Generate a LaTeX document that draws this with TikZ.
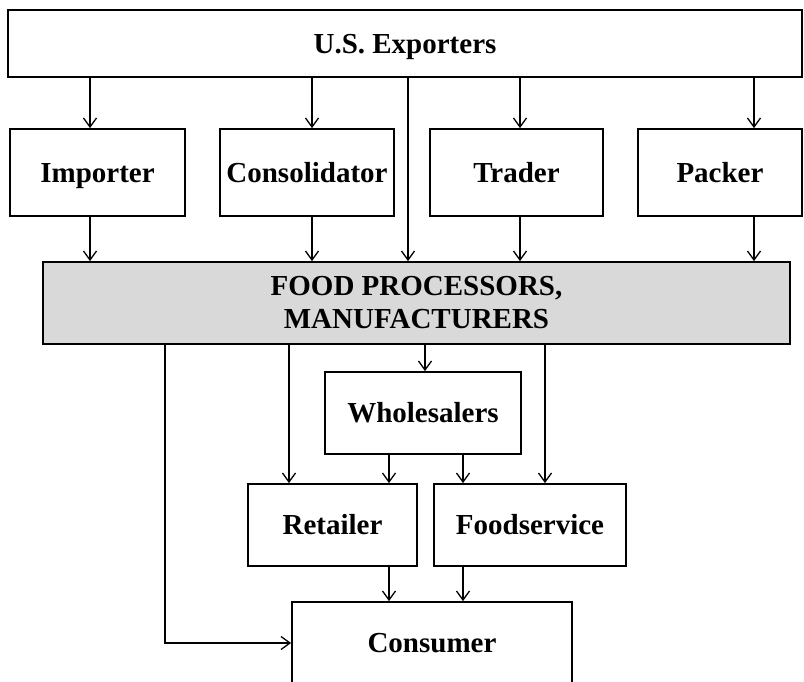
\documentclass[tikz,border=0pt]{standalone}
\usepackage{fontspec}
\setmainfont{Liberation Serif}
\usetikzlibrary{arrows.meta}
\definecolor{fpgray}{HTML}{D9D9D9}
\begin{document}
\begin{tikzpicture}[x=1pt, y=-1pt,
    box/.style={draw, line width=1.8pt, font=\fontsize{29}{33}\selectfont\bfseries, align=center, inner sep=2pt},
    onebox/.style={box, text height=24pt, text depth=5pt},
    link/.style={line width=1.3pt, -{Straight Barb[length=9pt, width=13pt, line width=1.3pt]}}]
        \useasboundingbox (0,0) rectangle (804,681);

        % Exporters
        \node[onebox, minimum width=794, minimum height=67] (exporters) at (405,43.5) {U.S. Exporters};

        % Intermediaries
        \node[onebox, minimum width=175, minimum height=87] (importer) at (97.5,172.5) {Importer};
        \node[onebox, minimum width=174, minimum height=87] (consolidator) at (307,172.5) {Consolidator};
        \node[onebox, minimum width=173, minimum height=87] (trader) at (516.5,172.5) {Trader};
        \node[onebox, minimum width=164, minimum height=87] (packer) at (720,172.5) {Packer};

        % Processors
        \node[box, fill=fpgray, minimum width=747, minimum height=82] (processors) at (416.5,303) {FOOD PROCESSORS,\\MANUFACTURERS};

        % Distribution
        \node[onebox, minimum width=196, minimum height=82] (wholesalers) at (423,413) {Wholesalers};
        \node[onebox, minimum width=169, minimum height=82] (retailer) at (332.5,525) {Retailer};
        \node[onebox, minimum width=192, minimum height=82] (foodservice) at (530,525) {Foodservice};
        \node[onebox, minimum width=280, minimum height=82] (consumer) at (432,643) {Consumer};

        % Lanes
        \coordinate (lane1) at (90,0);
        \coordinate (lane2) at (312,0);
        \coordinate (lane3) at (408,0);
        \coordinate (lane4) at (520,0);
        \coordinate (lane5) at (754,0);
        \coordinate (bypass) at (165,0);
        \coordinate (toret) at (289,0);
        \coordinate (towhole) at (425,0);
        \coordinate (tofood) at (545,0);
        \coordinate (left) at (389,0);
        \coordinate (right) at (463,0);

        % Exporters to intermediaries
        \draw[link] (exporters.south -| lane1) -- (importer.north -| lane1);
        \draw[link] (exporters.south -| lane2) -- (consolidator.north -| lane2);
        \draw[link] (exporters.south -| lane3) -- (processors.north -| lane3);
        \draw[link] (exporters.south -| lane4) -- (trader.north -| lane4);
        \draw[link] (exporters.south -| lane5) -- (packer.north -| lane5);

        % Intermediaries to processors
        \draw[link] (importer.south -| lane1) -- (processors.north -| lane1);
        \draw[link] (consolidator.south -| lane2) -- (processors.north -| lane2);
        \draw[link] (trader.south -| lane4) -- (processors.north -| lane4);
        \draw[link] (packer.south -| lane5) -- (processors.north -| lane5);

        % Processors downwards
        \draw[link] (processors.south -| towhole) -- (wholesalers.north -| towhole);
        \draw[link] (processors.south -| toret) -- (retailer.north -| toret);
        \draw[link] (processors.south -| tofood) -- (foodservice.north -| tofood);
        \draw[link] (processors.south -| bypass) |- (consumer.west);

        % Wholesalers and retail to consumer
        \draw[link] (wholesalers.south -| left) -- (retailer.north -| left);
        \draw[link] (wholesalers.south -| right) -- (foodservice.north -| right);
        \draw[link] (retailer.south -| left) -- (consumer.north -| left);
        \draw[link] (foodservice.south -| right) -- (consumer.north -| right);
    \end{tikzpicture}
\end{document}
